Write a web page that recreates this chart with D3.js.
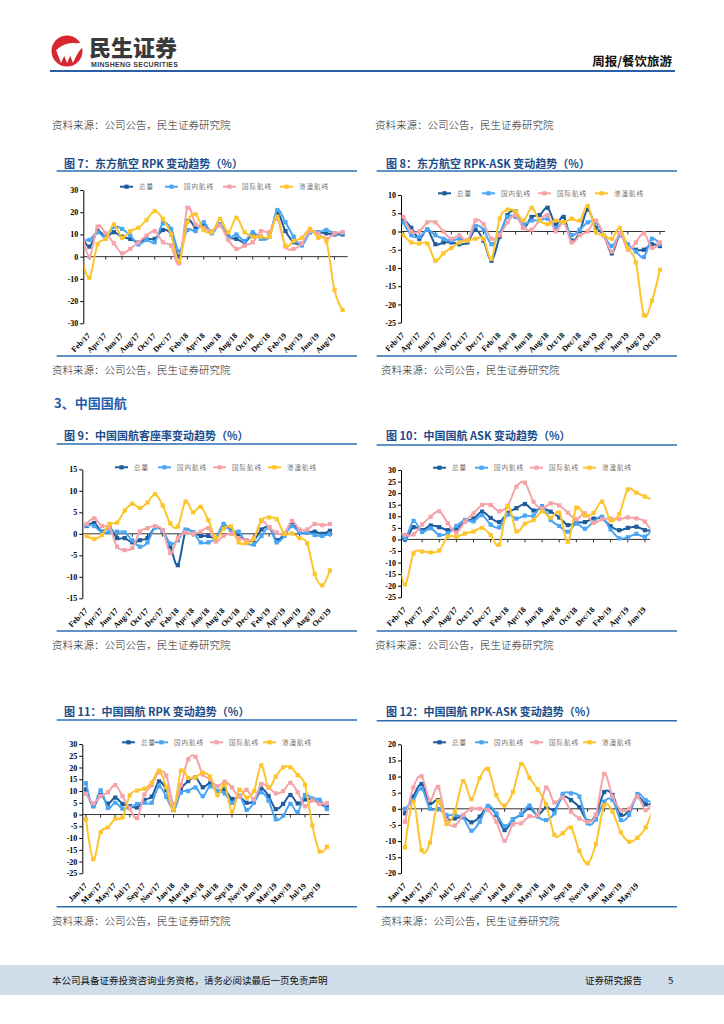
<!DOCTYPE html>
<html>
<head>
  <meta charset="utf-8">
  <script src="https://cdn.jsdelivr.net/npm/d3@7"></script>
  <style>
    body { margin: 0; background: #fff; }
    svg { display: block; }
  </style>
</head>
<body>
<script>
var width = 724;
var height = 1024;

var seriesNames = ["总量", "国内航线", "国际航线", "港澳航线"];
var seriesColors = ["#1f5c9c", "#4aa6f4", "#f5a3a9", "#fdc42c"];

// months used on every category axis
var monthList = ["Jan/17","Feb/17","Mar/17","Apr/17","May/17","Jun/17","Jul/17","Aug/17","Sep/17","Oct/17","Nov/17","Dec/17",
  "Jan/18","Feb/18","Mar/18","Apr/18","May/18","Jun/18","Jul/18","Aug/18","Sep/18","Oct/18","Nov/18","Dec/18",
  "Jan/19","Feb/19","Mar/19","Apr/19","May/19","Jun/19","Jul/19","Aug/19","Sep/19","Oct/19"];
var tickEven = ["Feb/17","Apr/17","Jun/17","Aug/17","Oct/17","Dec/17","Feb/18","Apr/18","Jun/18","Aug/18","Oct/18","Dec/18","Feb/19","Apr/19","Jun/19","Aug/19","Oct/19"];
var tickOdd = ["Jan/17","Mar/17","May/17","Jul/17","Sep/17","Nov/17","Jan/18","Mar/18","May/18","Jul/18","Sep/18","Nov/18","Jan/19","Mar/19","May/19","Jul/19","Sep/19"];

// 图7 东方航空 RPK (Jan/17 - Sep/19)
var cat7 = monthList.slice(0, 33);
var rpk7Total = [10, 4.5, 11.5, 9, 11, 9, 8, 6.5, 8, 8, 12, 10, 0, 16, 13, 14, 11, 14.5, 9, 8, 6.5, 10, 9, 9, 19.5, 11.5, 6.5, 6, 11, 11, 10.5, 10, 10];
var rpk7Dom = [8, 7.5, 11, 8.5, 13.5, 12.5, 9.5, 5.5, 7.5, 6.5, 15, 12.5, 2.5, 12, 11.5, 15.5, 10.5, 14.5, 8.5, 10, 7, 11, 8, 9, 21, 15.5, 9, 5, 11, 11, 12, 10.5, 10.5];
var rpk7Intl = [12, 0, 13.5, 10.5, 6, 1.5, 3.5, 6.5, 9.5, 11.5, 6.5, 5, -3, 22, 14.5, 13, 11.5, 14, 7.5, 3.5, 5, 6.5, 11.5, 11, 17, 4.5, 3.5, 6, 11.5, 10.5, 8, 10.5, 11];
var rpk7HK = [0, -9.5, 5.5, 8, 14.5, 8.5, 11.5, 13, 16.5, 20.5, 17, 10, -2, 15.5, 19, 12, 11, 17, 11, 17.5, 11, 9, 9, 9, 18, 5, 7, 8.5, 12.5, 8.5, 7, -15, -24];

// 图8 东方航空 RPK-ASK (Feb/17 - Oct/19)
var cat8 = monthList.slice(1, 34);
var gap8Total = [3.5, 1, -2, 0.5, -3.5, -3, -3, -3.5, -3, 0.5, -2.5, -8, -1.5, 4.5, 5.5, 1, 4, 4.5, 6.5, 2, 4, -2.5, 0, 6, 1, -1, -6, -1, -4, -5, -5, -3.5, -4];
var gap8Dom = [2.5, -1, -1.5, 0.5, -1, -2, -2.5, -2, -2.5, 1.5, 0.5, -3.5, -0.5, 4, 4, 2, 3, 3, 3.5, 1, 2.5, -1, 0.5, 2.5, 2.5, -1, -4, -1, -3.5, -5.5, -7, -2, -3.5];
var gap8Intl = [4, 0, 0, 2.5, 2.5, 0, -2, -1, -2.5, 3, 2, -2, -1, 2.5, 4.5, 1, 0.5, 3, 4.5, 0, 2.5, -3, -1, 0, 3, -1, -5.5, -0.5, -5, -3, -0.5, -4.5, -3];
var gap8HK = [-1, -3, -3.3, -3.3, -8, -6, -4.5, -3, -2.5, -2, -2, -7.5, 3.5, 6, 5.5, 3, 6.5, 3, 2, 3, 2.5, 3.5, 3, 7, 0, -1, -2, 1, -4.5, -8.5, -23, -19, -10.5];

// 图9 中国国航 客座率 (Feb/17 - Oct/19)
var cat9 = monthList.slice(1, 34);
var load9Total = [1.8, 2.5, 0.5, 1.5, -1, -1, -2, -1.5, -1, 1.5, 0.5, -3, -7.3, 0.5, 0.3, -0.5, -0.5, -1, 1.5, 1, -0.5, -1.5, -1.5, 1, 1.5, -1.5, 0, 2.3, 0.3, 0.3, 0.5, 0, 0.7];
var load9Dom = [2, 1.8, 0.3, 0.5, 0.5, 0.3, -1.5, -3, -2, 1.5, 0.8, -2.3, -1.5, 1, 0.3, -2, -2, -1, 2.3, 0.5, 0.5, -2, -2.5, -0.5, 1.5, -2, -0.5, 1.8, 0.3, 0.3, -0.3, -0.5, 0];
var load9Intl = [2.3, 3.6, 1.8, 1.5, -3, -3.8, -3.3, 0.5, 1.3, 1.8, 0.8, -4.5, -1, 0.3, 0, 0.5, 1.3, -1.8, -0.5, 0, -1, -1.5, -1, 3, 1.5, 0.3, 0, 3, 1, 1, 2.3, 2, 2.3];
var load9HK = [-0.5, -1.2, -0.3, 2.3, 2.6, 5.4, 7, 6, 7.3, 9.2, 6.6, 2.4, 1.7, 7.5, 5, 6.3, 3.2, -1, 1.2, 1.7, -2, -2.2, -1.2, 3.2, 3.8, 3.4, 0, 0.1, -1, -2.2, -9.4, -12, -8.5];

// 图10 中国国航 ASK (Jan/17 - Jul/19)
var cat10 = monthList.slice(0, 31);
var ask10Total = [3, 0, 5.3, 4, 6, 5.3, 4, 4.5, 7.8, 9, 12, 9.3, 7.5, 11.5, 13.5, 15.3, 12.5, 13.5, 12, 9.5, 6.2, 7.2, 7.5, 9, 9, 5.7, 4, 5, 5.5, 4, 4];
var ask10Dom = [7, 0.5, 8, 3.2, 4.8, 1.9, 2.6, 5.8, 8.4, 7.8, 10.5, 6.4, 5.2, 10.7, 9, 10.3, 10.3, 14.4, 8.4, 5.8, 3.3, 6.8, 4.6, 7.6, 9.8, 4.3, 0.5, 0.9, 2.4, 1.2, 5];
var ask10Intl = [4, 2, 2.2, 6.5, 9.8, 12.2, 7, 3, 7.7, 11.3, 14.9, 14.9, 12.2, 14.6, 22.8, 24.5, 16.3, 13.4, 15.6, 14.7, 11.6, 8.7, 11.3, 7.2, 8.7, 9, 8.8, 9.5, 9.1, 7.7, 2];
var ask10HK = [-6, -19.4, -6, -5.2, -5.6, -4.8, 1.3, 1.2, 2.6, 3.4, 5, 1.9, -2.3, 14.4, 3.5, 6.8, 8.4, 12.1, 9.4, 11.6, -1, 13.7, 10.3, 11.4, 16.3, 8.1, 11, 21.6, 20.2, 18.5, 17];

// 图11 中国国航 RPK (Jan/17 - Oct/19)
var cat11 = monthList.slice(0, 34);
var rpk11Total = [10.7, 3.6, 8.3, 4.6, 7.2, 4.5, 3.6, 3, 6.2, 7.6, 14.1, 10.4, 1.9, 10.7, 14.2, 15.8, 11.6, 13.3, 9.9, 10.7, 6.6, 7.6, 5, 5.9, 11, 7.9, 2.3, 4.5, 8.3, 4.7, 6.4, 6.4, 4.7, 3];
var rpk11Dom = [13.3, 3.5, 10.3, 2.8, 5, 2.5, 3, 4.5, 5, 5, 12, 7.5, 2, 9.3, 10, 11.5, 7.8, 12, 10, 9, 5, 8, 2, 5, 9.5, 6, -2, -0.5, 4.5, 1, 8.3, 6.8, 6.3, 2.3];
var rpk11Intl = [8.8, 4.8, 7.8, 9.5, 12.5, 7.8, 2.5, -1.5, 8.5, 12.5, 18, 16.5, 4.5, 12.5, 23.5, 24.5, 17, 15, 12, 14, 11.5, 7.5, 10.5, 6.5, 13, 11.5, 9, 10, 13.5, 9.5, 3.5, 6, 4.5, 4.8];
var rpk11HK = [-2, -19, -7.5, -5.5, -1.8, -1.2, 8.2, 10.2, 11, 13.6, 18.7, 11.6, 2, 18.7, 15.6, 15.8, 17.8, 16.1, 8.2, 12.7, 1.2, 10.6, 7.2, 10, 20.9, 11.6, 16.1, 20.1, 20.1, 16.8, 12.6, -4.6, -15.7, -13.7];

// 图12 中国国航 RPK-ASK (Jan/17 - Jul/19)
var cat12 = monthList.slice(0, 31);
var gap12Total = [-1.4, 3.8, 7.7, 1.7, 2.7, -3, -3, -2.4, -4.2, -2.4, 0.7, -1.9, -6.6, -3.3, -1.9, 0.2, -1.9, 0.5, -0.4, 3.8, 2.7, 0.5, -3.8, -1.9, 5.2, 4.3, -1.9, -0.4, 3.8, 1.4, 2];
var gap12Dom = [0, 2.7, 6.3, 0, 0, -1.9, -1.9, -2.7, -6.8, -4, 0.9, -1.4, -5.4, -3.3, -1.7, 1, -2.4, -3.5, -1.4, 4.6, 4.8, 3.8, -4.5, -3.3, 2.2, 2.7, -3.5, -1.9, 4.6, 2.7, 2];
var gap12Intl = [-4, 6.6, 10.1, 2.7, 6.8, -3.5, -5.2, -1.9, 0, 0, -0.4, -4, -9.9, -4.8, -4.5, -2.3, -1.9, 6.6, 1.9, 3.5, -0.9, -3, -4, -1.9, 10.8, 3.8, -0.4, 0, 3.8, -0.4, 3];
var gap12HK = [-12, 2.2, -12.8, -10.5, 2.4, -4.7, -0.9, 8.6, 3, 9.5, 12.4, 4.2, 1, 5.2, 13.9, 9.6, 6, 1.4, -8.1, -7.6, -5.8, -13, -16.9, -10.9, 1.1, -0.9, -7.3, -10.2, -9, -5.8, 1];

var sourceText = "资料来源：公司公告，民生证券研究院";
var cjk = "'Noto Sans CJK SC', sans-serif";
var serif = "'Liberation Serif', 'Times New Roman', serif";

var svg = d3.select("body").append("svg")
  .attr("width", width)
  .attr("height", height);

// ---------- header ----------
svg.append("circle").attr("cx", 67).attr("cy", 51).attr("r", 15.5).attr("fill", "#d7282f");
[0, 6, 12].forEach(function (o) {
  svg.append("path")
    .attr("d", "M" + (56 + o) + ",50 Q" + (65 + o) + ",42 " + (75 + o) + ",43 L" + (73 + o) + ",46 Q" + (67 + o) + ",48 " + (61 + o) + ",63 Z")
    .attr("fill", "#fff");
});
svg.append("text").attr("x", 89).attr("y", 56).text("民生证券")
  .attr("font-family", cjk).attr("font-weight", 900).attr("font-size", 22).attr("fill", "#3a3a3a");
svg.append("text").attr("x", 91).attr("y", 67).text("MINSHENG SECURITIES")
  .attr("font-family", "'Liberation Sans', Arial, sans-serif").attr("font-weight", "bold")
  .attr("font-size", 7).attr("textLength", 87).attr("fill", "#3a3a3a");
svg.append("text").attr("x", 672).attr("y", 66).attr("text-anchor", "end").text("周报/餐饮旅游")
  .attr("font-family", cjk).attr("font-weight", 700).attr("font-size", 12.5).attr("fill", "#111");
svg.append("line").attr("x1", 50).attr("x2", 675).attr("y1", 71).attr("y2", 71)
  .attr("stroke", "#2b5ea6").attr("stroke-width", 2);

// source lines
[[52, 129], [375, 129], [52, 374], [381, 374], [52, 649], [375, 649], [52, 925], [381, 925]].forEach(function (p) {
  svg.append("text").attr("x", p[0]).attr("y", p[1]).text(sourceText)
    .attr("font-family", cjk).attr("font-weight", 300).attr("font-size", 10.5).attr("fill", "#222");
});

svg.append("text").attr("x", 54).attr("y", 408).text("3、中国国航")
  .attr("font-family", cjk).attr("font-weight", 700).attr("font-size", 13).attr("fill", "#1f5cab");

// footer
svg.append("rect").attr("x", 0).attr("y", 965).attr("width", width).attr("height", 30).attr("fill", "#cfdcea");
svg.append("text").attr("x", 52).attr("y", 984).text("本公司具备证券投资咨询业务资格，请务必阅读最后一页免责声明")
  .attr("font-family", cjk).attr("font-size", 9.5).attr("fill", "#111");
svg.append("text").attr("x", 585).attr("y", 984).text("证券研究报告")
  .attr("font-family", cjk).attr("font-size", 9.5).attr("fill", "#111");
svg.append("text").attr("x", 668).attr("y", 984).text("5")
  .attr("font-family", cjk).attr("font-size", 9.5).attr("fill", "#111");

// ---------- charts ----------
var charts = [
  { id: 7, title: "图 7：东方航空 RPK 变动趋势（%）", cats: cat7, ticks: tickEven.slice(0, 16),
    series: [rpk7Total, rpk7Dom, rpk7Intl, rpk7HK],
    titleY: 167.5, lineY: 171, bottomY: 356, axisX: 83.3, axisEnd: 347.7,
    yDom: [-30, 30], yStep: 10, yBot: 323.3, yTop: 190, x0: 81.2, step: 8.17,
    legendY: 186.7, legendX: [120, 165, 223, 280] },
  { id: 8, title: "图 8：东方航空 RPK-ASK 变动趋势（%）", cats: cat8, ticks: tickEven,
    series: [gap8Total, gap8Dom, gap8Intl, gap8HK],
    titleY: 167.5, lineY: 171, bottomY: 356, axisX: 401, axisEnd: 665,
    yDom: [-25, 10], yStep: 5, yBot: 322.7, yTop: 195, x0: 403.3, step: 8.02,
    legendY: 193.3, legendX: [438, 482, 538, 595] },
  { id: 9, title: "图 9：中国国航客座率变动趋势（%）", cats: cat9, ticks: tickEven,
    series: [load9Total, load9Dom, load9Intl, load9HK],
    titleY: 439.5, lineY: 444, bottomY: 631, axisX: 82.3, axisEnd: 332.7,
    yDom: [-15, 15], yStep: 5, yBot: 598.3, yTop: 469.3, x0: 86.7, step: 7.6,
    legendY: 467.3, legendX: [115, 158, 213, 268] },
  { id: 10, title: "图 10：中国国航 ASK 变动趋势（%）", cats: cat10, ticks: tickEven.slice(0, 15),
    series: [ask10Total, ask10Dom, ask10Intl, ask10HK],
    titleY: 439.5, lineY: 445, bottomY: 631, axisX: 401, axisEnd: 650,
    yDom: [-25, 30], yStep: 5, yBot: 597.3, yTop: 470, x0: 396.4, step: 8.57,
    legendY: 467.7, legendX: [433, 475, 530, 583] },
  { id: 11, title: "图 11：中国国航 RPK 变动趋势（%）", cats: cat11, ticks: tickOdd,
    series: [rpk11Total, rpk11Dom, rpk11Intl, rpk11HK],
    titleY: 716, lineY: 720, bottomY: 906.7, axisX: 82.3, axisEnd: 329.3,
    yDom: [-25, 30], yStep: 5, yBot: 873.3, yTop: 744, x0: 86, step: 7.3,
    legendY: 742.3, legendX: [122, 155, 210, 263] },
  { id: 12, title: "图 12：中国国航 RPK-ASK 变动趋势（%）", cats: cat12, ticks: tickOdd.slice(0, 15),
    series: [gap12Total, gap12Dom, gap12Intl, gap12HK],
    titleY: 716, lineY: 720.7, bottomY: 906.7, axisX: 401, axisEnd: 650,
    yDom: [-20, 20], yStep: 5, yBot: 873.3, yTop: 744.3, x0: 405, step: 8.3,
    legendY: 742.3, legendX: [433, 475, 530, 583] }
];

function drawChart(c) {
  var g = svg.append("g");
  var n = c.cats.length;
  var left = c.axisX < 362;
  var x = d3.scaleLinear().domain([0, n - 1]).range([c.x0, c.x0 + c.step * (n - 1)]);
  var y = d3.scaleLinear().domain(c.yDom).range([c.yBot, c.yTop]);

  // title + rules
  g.append("text").attr("x", left ? 64 : 386).attr("y", c.titleY).text(c.title)
    .attr("font-family", cjk).attr("font-weight", 700).attr("font-size", 11).attr("fill", "#1b4c8a");
  [c.lineY, c.bottomY].forEach(function (ly) {
    g.append("line").attr("x1", left ? 56.7 : 376.7).attr("x2", left ? 357 : 677)
      .attr("y1", ly).attr("y2", ly).attr("stroke", "#2c6cb2").attr("stroke-width", 1.5);
  });

  // y axis
  var yAxis = d3.axisLeft(y)
    .tickValues(d3.range(c.yDom[0], c.yDom[1] + 0.01, c.yStep))
    .tickSize(3).tickSizeOuter(0).tickPadding(2)
    .tickFormat(function (d) { return String(d); });
  var ya = g.append("g").attr("transform", "translate(" + c.axisX + ",0)").call(yAxis);
  ya.select(".domain").attr("stroke", "#000");
  ya.selectAll(".tick line").attr("stroke", "#000");
  ya.selectAll("text").attr("font-family", serif).attr("font-weight", "bold")
    .attr("font-size", 8).attr("fill", "#000");

  // category axis on the zero line
  g.append("line").attr("x1", c.axisX).attr("x2", c.axisEnd).attr("y1", y(0)).attr("y2", y(0))
    .attr("stroke", "#333").attr("stroke-width", 1);
  c.ticks.forEach(function (t) {
    var i = c.cats.indexOf(t);
    g.append("line").attr("x1", x(i)).attr("x2", x(i)).attr("y1", y(0)).attr("y2", y(0) + 3)
      .attr("stroke", "#333");
    g.append("text")
      .attr("transform", "translate(" + (x(i) - 0.5) + "," + (c.yBot + 11) + ") rotate(-45)")
      .attr("text-anchor", "end").attr("dy", "0.35em").text(t)
      .attr("font-family", serif).attr("font-weight", "bold").attr("font-size", 8).attr("fill", "#000");
  });

  // series
  svg.append("clipPath").attr("id", "clip" + c.id).append("rect")
    .attr("x", c.axisX + 0.5).attr("y", c.yTop - 10)
    .attr("width", c.axisEnd - c.axisX).attr("height", c.yBot - c.yTop + 20);
  var plot = g.append("g").attr("clip-path", "url(#clip" + c.id + ")");
  var line = d3.line()
    .x(function (d, i) { return x(i); })
    .y(function (d) { return y(d); })
    .curve(d3.curveCatmullRom.alpha(0));
  c.series.forEach(function (s, k) {
    plot.append("path").datum(s).attr("d", line)
      .attr("fill", "none").attr("stroke", seriesColors[k]).attr("stroke-width", 2);
    plot.selectAll(".m" + k).data(s).enter().append("rect")
      .attr("x", function (d, i) { return x(i) - 2.1; })
      .attr("y", function (d) { return y(d) - 2.1; })
      .attr("width", 4.2).attr("height", 4.2)
      .attr("fill", seriesColors[k]);
  });

  // legend
  seriesNames.forEach(function (name, k) {
    var lx = c.legendX[k];
    g.append("line").attr("x1", lx).attr("x2", lx + 13).attr("y1", c.legendY).attr("y2", c.legendY)
      .attr("stroke", seriesColors[k]).attr("stroke-width", 2);
    g.append("rect").attr("x", lx + 4.4).attr("y", c.legendY - 2.1).attr("width", 4.2).attr("height", 4.2)
      .attr("fill", seriesColors[k]);
    g.append("text").attr("x", lx + 19).attr("y", c.legendY + 2.3).text(name)
      .attr("font-family", cjk).attr("font-weight", 300).attr("font-size", 6.5)
      .attr("letter-spacing", 1).attr("fill", "#222");
  });
}

charts.forEach(drawChart);
</script>
</body>
</html>
